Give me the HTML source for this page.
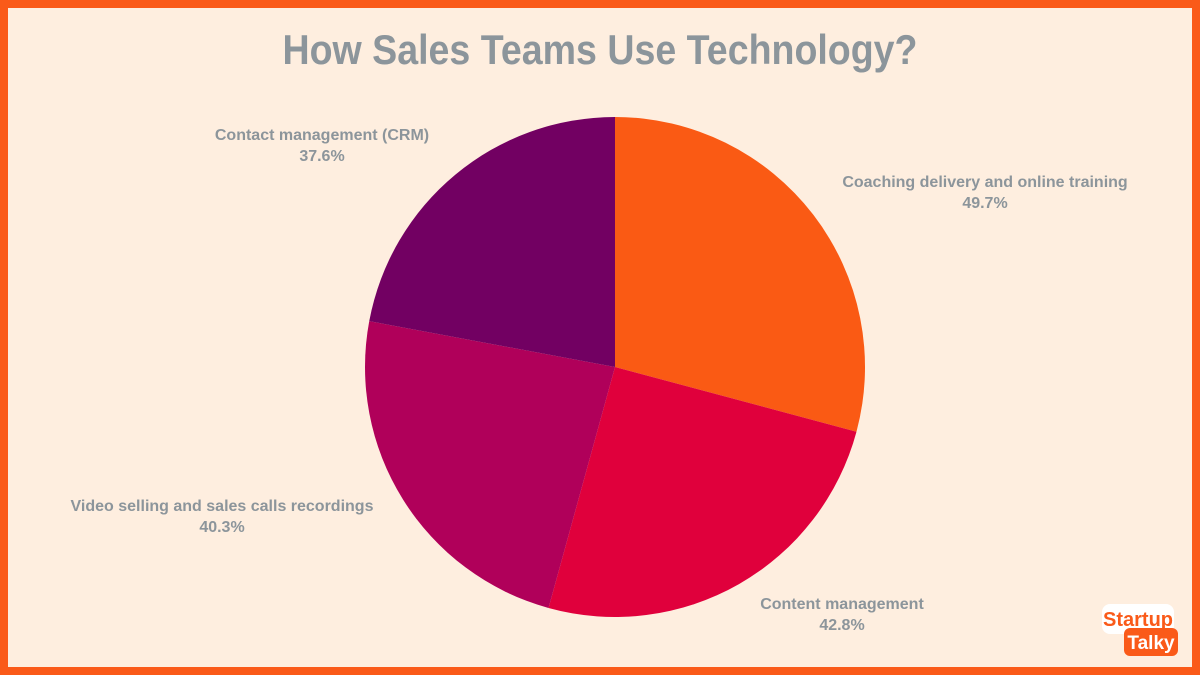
<!DOCTYPE html>
<html><head><meta charset="utf-8"><style>
html,body{margin:0;padding:0}
body{width:1200px;height:675px;overflow:hidden;font-family:"Liberation Sans",sans-serif}
#frame{position:absolute;left:0;top:0;width:1184px;height:659px;border:8px solid #FA5A19;background:#FEEEDF}
</style></head><body>
<div id="frame"></div>
<svg id="chart" width="1200" height="675" style="position:absolute;left:0;top:0">
<text x="600" y="64" text-anchor="middle" font-size="42" font-weight="bold" fill="#8C959B" textLength="635" lengthAdjust="spacingAndGlyphs" font-family="Liberation Sans, sans-serif">How Sales Teams Use Technology?</text>
<g id="slices"></g>
<g id="labels" font-family="Liberation Sans, sans-serif" font-size="16" font-weight="bold" fill="#8C959B" text-anchor="middle"></g>
<g>
<rect x="1102" y="604" width="72" height="30" rx="8" fill="#fff"/>
<text x="1138" y="626" text-anchor="middle" font-size="20" font-weight="bold" fill="#FA5A19">Startup</text>
<rect x="1124" y="628" width="54" height="28" rx="6" fill="#FA5A19"/>
<text x="1151" y="649" text-anchor="middle" font-size="19" font-weight="bold" fill="#fff">Talky</text>
</g>
</svg>
<script>
const categories=["Coaching delivery and online training","Content management","Video selling and sales calls recordings","Contact management (CRM)"];
const values=[49.7,42.8,40.3,37.6];
const colors=["#FA5A14","#E0003C","#B0005A","#720062"];
const labelPos=[[985,187],[842,609],[222,511],[322,140]];
const cx=615,cy=367,r=250;
const total=values.reduce((a,b)=>a+b,0);
const ns="http://www.w3.org/2000/svg";
function pt(a){return [cx+r*Math.sin(a),cy-r*Math.cos(a)];}
let ang=0;
const sg=document.getElementById('slices'),lg=document.getElementById('labels');
values.forEach((v,i)=>{
 const a2=ang+v/total*2*Math.PI;
 const p1=pt(ang),p2=pt(a2);
 const large=(a2-ang)>Math.PI?1:0;
 const p=document.createElementNS(ns,'path');
 p.setAttribute('d',`M${cx},${cy}L${p1[0]},${p1[1]}A${r},${r} 0 ${large} 1 ${p2[0]},${p2[1]}Z`);
 p.setAttribute('fill',colors[i]);
 
 
 sg.appendChild(p);
 ang=a2;
 const [lx,ly]=labelPos[i];
 const t=document.createElementNS(ns,'text');
 t.setAttribute('x',lx);t.setAttribute('y',ly);
 
 
 const s1=document.createElementNS(ns,'tspan');s1.setAttribute('x',lx);s1.textContent=categories[i];
 const s2=document.createElementNS(ns,'tspan');s2.setAttribute('x',lx);s2.setAttribute('dy','21');s2.textContent=values[i].toFixed(1)+'%';
 t.appendChild(s1);t.appendChild(s2);lg.appendChild(t);
});
</script>
</body></html>
